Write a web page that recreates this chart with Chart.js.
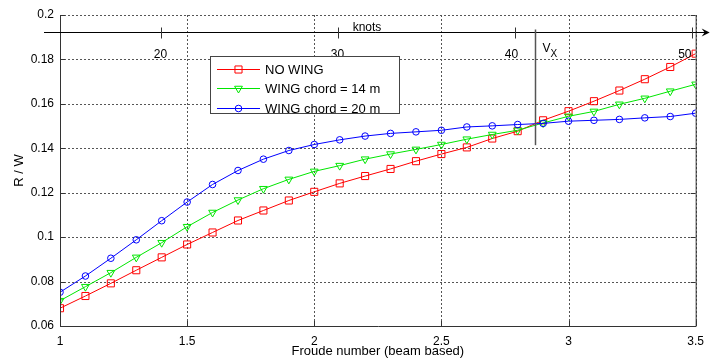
<!DOCTYPE html>
<html>
<head>
<meta charset="utf-8">
<script src="https://cdn.jsdelivr.net/npm/chart.js@4/dist/chart.umd.min.js"></script>
<style>
  html, body { margin: 0; padding: 0; background: #fff; }
</style>
</head>
<body>
<canvas id="grafico" width="712" height="362"></canvas>
<script>
// dados
const froude = [1.0, 1.1, 1.2, 1.3, 1.4, 1.5, 1.6, 1.7, 1.8, 1.9, 2.0, 2.1, 2.2,
                2.3, 2.4, 2.5, 2.6, 2.7, 2.8, 2.9, 3.0, 3.1, 3.2, 3.3, 3.4, 3.5];
const noWing = [0.0680, 0.0735, 0.0792, 0.0851, 0.0909, 0.0967, 0.1021, 0.1075, 0.1120,
                0.1165, 0.1204, 0.1242, 0.1275, 0.1307, 0.1342, 0.1374, 0.1404, 0.1444,
                0.1477, 0.1526, 0.1567, 0.1612, 0.1660, 0.1711, 0.1766, 0.1826];
const wing14 = [0.0714, 0.0777, 0.0840, 0.0909, 0.0975, 0.1047, 0.1111, 0.1167, 0.1218,
                0.1260, 0.1296, 0.1322, 0.1351, 0.1374, 0.1395, 0.1417, 0.1441, 0.1462,
                0.1481, 0.1514, 0.1544, 0.1566, 0.1598, 0.1625, 0.1657, 0.1688];
const wing20 = [0.0752, 0.0825, 0.0905, 0.0988, 0.1074, 0.1158, 0.1237, 0.1300, 0.1351,
                0.1390, 0.1417, 0.1438, 0.1455, 0.1467, 0.1474, 0.1481, 0.1496, 0.1501,
                0.1507, 0.1512, 0.1522, 0.1526, 0.1530, 0.1537, 0.1543, 0.1558];
const legendLabels = ['NO WING', 'WING chord = 14 m', 'WING chord = 20 m'];
const knotTicks = [20, 30, 40, 50];
const knotMin = 14.32, knotMax = 50.22;
const knotLineLevel = 0.1922;
const vxFroude = 2.867, vxBottom = 0.1414;

const fonte = 'Liberation Sans, Arial, Helvetica, sans-serif';

function linha(ctx, x1, y1, x2, y2) {
    ctx.beginPath();
    ctx.moveTo(x1, y1);
    ctx.lineTo(x2, y2);
    ctx.stroke();
}

// grade pontilhada estilo matlab
const grade = {
    id: 'grade',
    beforeDatasetsDraw(chart) {
        const ctx = chart.ctx;
        const a = chart.chartArea;
        const sx = chart.scales.x, sy = chart.scales.y;
        ctx.save();
        ctx.strokeStyle = '#555';
        ctx.lineWidth = 1;
        ctx.setLineDash([2, 2]);
        sy.ticks.forEach(t => {
            const py = Math.round(sy.getPixelForValue(t.value)) + 0.5;
            linha(ctx, a.left, py, a.right, py);
        });
        sx.ticks.forEach(t => {
            const px = Math.round(sx.getPixelForValue(t.value)) + 0.5;
            linha(ctx, px, a.top, px, a.bottom);
        });
        ctx.restore();
    }
};

const decoracao = {
    id: 'decoracao',
    afterDraw(chart) {
        const ctx = chart.ctx;
        const a = chart.chartArea;
        const sx = chart.scales.x, sy = chart.scales.y, sk = chart.scales.knots;
        ctx.save();

        // caixa dos eixos
        ctx.strokeStyle = '#333';
        ctx.lineWidth = 1;
        ctx.beginPath();
        ctx.moveTo(a.left + 0.5, a.top);
        ctx.lineTo(a.left + 0.5, a.bottom + 0.5);
        ctx.lineTo(a.right + 0.5, a.bottom + 0.5);
        ctx.lineTo(a.right + 0.5, a.top);
        ctx.stroke();

        sy.ticks.forEach(t => {
            const py = Math.round(sy.getPixelForValue(t.value)) + 0.5;
            linha(ctx, a.left, py, a.left + 5, py);
            linha(ctx, a.right - 5, py, a.right, py);
        });
        sx.ticks.forEach(t => {
            const px = Math.round(sx.getPixelForValue(t.value)) + 0.5;
            linha(ctx, px, a.bottom, px, a.bottom - 5);
        });

        // eixo de nos
        const ky = Math.round(sy.getPixelForValue(knotLineLevel)) + 0.5;
        ctx.strokeStyle = '#000';
        linha(ctx, a.left - 16, ky, a.right + 12, ky);
        ctx.fillStyle = '#000';
        ctx.beginPath();
        ctx.moveTo(a.right + 14, ky);
        ctx.lineTo(a.right + 6, ky - 4);
        ctx.lineTo(a.right + 9, ky);
        ctx.lineTo(a.right + 6, ky + 4);
        ctx.closePath();
        ctx.fill();

        ctx.font = '12px ' + fonte;
        ctx.textBaseline = 'alphabetic';
        knotTicks.forEach((v, i) => {
            const px = Math.round(sk.getPixelForValue(v)) + 0.5;
            ctx.strokeStyle = '#333';
            linha(ctx, px, ky - 5, px, ky + 6);
            ctx.textAlign = i === knotTicks.length - 1 ? 'right' : 'center';
            ctx.fillText(String(v), i === knotTicks.length - 1 ? px - 1 : px - (i === 2 ? 4 : 1), ky + 25);
        });
        ctx.textAlign = 'left';
        ctx.fillText('knots', sk.getPixelForValue(30) + 15, ky - 2);

        // linha Vx
        const vx = Math.round(sx.getPixelForValue(vxFroude)) + 0.5;
        ctx.strokeStyle = '#555';
        ctx.lineWidth = 1.5;
        linha(ctx, vx, ky - 3, vx, sy.getPixelForValue(vxBottom));
        ctx.fillStyle = '#000';
        ctx.font = '12px ' + fonte;
        ctx.fillText('V', vx + 7, ky + 19);
        ctx.font = '10px ' + fonte;
        ctx.fillText('X', vx + 15, ky + 24);

        // legenda
        const lx = a.left + 150, ly = a.top + 41, lw = 189, lh = 57;
        ctx.fillStyle = '#fff';
        ctx.fillRect(lx, ly, lw, lh);
        ctx.strokeStyle = '#444';
        ctx.lineWidth = 1;
        ctx.strokeRect(lx + 0.5, ly + 0.5, lw, lh);
        ctx.textBaseline = 'middle';
        ctx.textAlign = 'left';
        chart.data.datasets.forEach((ds, i) => {
            const ry = Math.round(ly + 13 + i * 19.3) + 0.5;
            ctx.strokeStyle = ds.borderColor;
            ctx.lineWidth = 1;
            linha(ctx, lx + 7, ry, lx + 50, ry);
            ctx.fillStyle = 'rgba(0,0,0,0)';
            Chart.helpers.drawPoint(ctx, {
                pointStyle: ds.pointStyle,
                radius: ds.pointRadius,
                rotation: ds.pointRotation || 0,
                borderWidth: 1
            }, lx + 28.5, ry);
            ctx.fillStyle = '#000';
            ctx.font = '13px ' + fonte;
            ctx.fillText(legendLabels[i], lx + 55, ry + 1);
        });
        ctx.restore();
    }
};

const pontos = serie => froude.map((f, i) => ({ x: f, y: serie[i] }));

new Chart(document.getElementById('grafico'), {
    type: 'line',
    data: {
        datasets: [{
            label: legendLabels[0],
            data: pontos(noWing),
            borderColor: '#ff0000',
            pointStyle: 'rect',
            pointRadius: 5,
            order: 3
        }, {
            label: legendLabels[1],
            data: pontos(wing14),
            borderColor: '#00e600',
            pointStyle: 'triangle',
            pointRadius: 4.5,
            pointRotation: 180,
            order: 2
        }, {
            label: legendLabels[2],
            data: pontos(wing20),
            borderColor: '#0000ff',
            pointStyle: 'circle',
            pointRadius: 3.3,
            order: 1
        }]
    },
    options: {
        responsive: false,
        animation: false,
        devicePixelRatio: 1,
        layout: { padding: { left: 0, top: 15, right: 14, bottom: 0 } },
        elements: {
            line: { borderWidth: 1, tension: 0 },
            point: { backgroundColor: 'transparent', borderWidth: 1, hoverRadius: 4 }
        },
        plugins: {
            legend: { display: false },
            tooltip: { enabled: false }
        },
        scales: {
            x: {
                type: 'linear',
                min: 1,
                max: 3.5,
                afterFit: s => { s.height = 36; },
                ticks: {
                    stepSize: 0.5,
                    padding: 8,
                    color: '#000',
                    font: { family: fonte, size: 12 },
                    callback: v => String(+v.toFixed(2))
                },
                grid: { display: false, drawTicks: false },
                border: { display: false },
                title: {
                    display: true,
                    text: 'Froude number (beam based)',
                    color: '#000',
                    font: { family: fonte, size: 13 },
                    padding: { top: 0, bottom: 3 }
                }
            },
            y: {
                min: 0.06,
                max: 0.2,
                afterFit: s => { s.width = 60; },
                ticks: {
                    stepSize: 0.02,
                    padding: 6,
                    color: '#000',
                    font: { family: fonte, size: 12 },
                    callback: v => String(+v.toFixed(2))
                },
                grid: { display: false, drawTicks: false },
                border: { display: false },
                title: {
                    display: true,
                    text: 'R / W',
                    color: '#000',
                    font: { family: fonte, size: 13 },
                    padding: { top: 12, bottom: 0 }
                }
            },
            knots: {
                type: 'linear',
                axis: 'x',
                position: 'top',
                display: false,
                min: knotMin,
                max: knotMax
            }
        }
    },
    plugins: [grade, decoracao]
});
</script>
</body>
</html>
